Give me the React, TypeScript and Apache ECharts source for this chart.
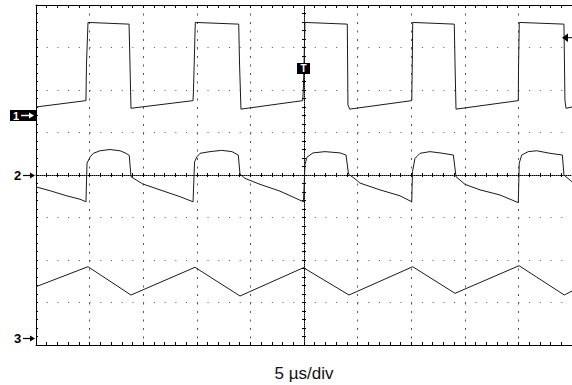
import React, { useEffect, useRef } from "react";
import * as echarts from "echarts";

// time in µs (10 divisions × 5 µs/div), amplitude in screen divisions (0..8)
const xMin = 0;
const xMax = 50;
const xInterval = 5;
const yMin = 0;
const yMax = 8;
const yInterval = 1;
const xAxisName = "5 µs/div";

const ch1Points: [number, number][] = [
  [0, 5.6], [4.66, 5.75], [4.71, 6.61], [4.85, 7.59], [8.68, 7.55], [8.77, 6.59], [8.86, 5.57],
  [14.65, 5.75], [14.69, 6.0], [14.86, 7.59], [18.91, 7.55], [18.99, 6.59], [19.12, 5.55],
  [24.88, 5.75], [24.95, 6.07], [25.09, 7.59], [29.04, 7.55], [29.1, 5.65], [29.26, 5.55],
  [35.05, 5.75], [35.1, 6.6], [35.14, 7.59], [39.02, 7.55], [39.09, 6.59], [39.18, 5.55],
  [44.99, 5.75], [45.01, 6.47], [45.08, 7.59], [49.25, 7.55], [49.34, 5.76], [49.44, 5.57], [50, 5.6],
];

const ch2Points: [number, number][] = [
  [0, 3.72], [1.31, 3.63], [2.86, 3.51], [4.1, 3.43], [4.66, 3.37],
  [4.76, 4.28], [5.04, 4.42], [5.35, 4.51], [5.97, 4.57], [6.9, 4.6], [7.84, 4.57], [8.4, 4.51], [8.7, 4.46],
  [8.86, 3.96], [9.95, 3.79], [11.57, 3.65], [13.43, 3.49], [14.65, 3.37],
  [14.79, 4.31], [15.02, 4.43], [15.3, 4.51], [16.23, 4.55], [17.32, 4.58], [18.28, 4.55], [18.87, 4.47],
  [19.03, 4.02], [19.5, 3.92], [20.9, 3.78], [22.76, 3.62], [24.95, 3.37],
  [25.09, 4.24], [25.28, 4.42], [25.84, 4.52], [26.96, 4.55], [28.36, 4.52], [28.92, 4.47],
  [29.15, 4.02], [29.76, 3.91], [30.22, 3.81], [32.09, 3.65], [33.96, 3.51], [35.05, 3.37],
  [35.12, 4.08], [35.35, 4.39], [35.82, 4.51], [36.75, 4.55], [37.69, 4.52], [38.93, 4.47],
  [39.18, 3.96], [40.02, 3.78], [41.42, 3.65], [43.28, 3.53], [44.99, 3.35],
  [45.08, 4.28], [45.31, 4.47], [45.92, 4.55], [46.71, 4.57], [47.95, 4.51], [49.1, 4.47],
  [49.25, 4.0], [50, 3.84],
];

const ch3Points: [number, number][] = [
  [0, 1.372], [4.85, 1.842], [8.86, 1.176], [14.83, 1.828], [19.03, 1.153],
  [24.95, 1.819], [29.2, 1.176], [35.14, 1.842], [39.09, 1.216], [45.06, 1.866],
  [49.28, 1.176], [50, 1.27],
];

const frameColor = "#000";
const dotColor = "#555";
const traceColor = "#1a1a1a";

function baseX(extra: any) {
  return {
    type: "value",
    min: xMin,
    max: xMax,
    interval: xInterval,
    axisLabel: { show: false },
    splitLine: { show: false },
    ...extra,
  };
}
function baseY(extra: any) {
  return {
    type: "value",
    min: yMin,
    max: yMax,
    interval: yInterval,
    axisLabel: { show: false },
    splitLine: { show: false },
    ...extra,
  };
}

export default function App() {
  const ref = useRef<HTMLDivElement>(null);
  useEffect(() => {
    if (!ref.current) return;
    const chart = echarts.init(ref.current, null, { renderer: "svg" });
    const tickStyle = { color: frameColor, width: 1 };
    const option: any = {
      animation: false,
      backgroundColor: "#fff",
      grid: { left: 36, top: 5, width: 536, height: 340, containLabel: false, outerBoundsMode: "none" },
      xAxis: [
        baseX({
          position: "bottom",
          axisLine: { show: true, onZero: false, lineStyle: { color: frameColor, width: 1 } },
          axisTick: { show: true, inside: true, length: 3, lineStyle: tickStyle },
          minorTick: { show: true, splitNumber: 5, length: 3, lineStyle: tickStyle },
          splitLine: { show: true, lineStyle: { color: dotColor, width: 1, type: [2, 6.5] } },
          name: xAxisName,
          nameLocation: "middle",
          nameGap: 20,
          nameTextStyle: { fontFamily: "Liberation Sans, Arial, sans-serif", fontSize: 17, color: "#111" },
        }),
        baseX({
          position: "top",
          axisLine: { show: true, onZero: false, lineStyle: { color: frameColor, width: 1 } },
          axisTick: { show: true, inside: true, length: 3, lineStyle: tickStyle },
          minorTick: { show: true, splitNumber: 5, length: 3, lineStyle: tickStyle },
        }),
        baseX({
          position: "bottom",
          offset: -170,
          axisLine: { show: true, onZero: false, lineStyle: { color: frameColor, width: 1, type: [1, 1] } },
          axisTick: { show: true, inside: true, length: 2, lineStyle: tickStyle },
          minorTick: { show: true, splitNumber: 5, length: 2, lineStyle: tickStyle },
        }),
        baseX({
          position: "bottom",
          offset: -170,
          axisLine: { show: false, onZero: false },
          axisTick: { show: true, inside: false, length: 2, lineStyle: tickStyle },
          minorTick: { show: true, splitNumber: 5, length: 2, lineStyle: tickStyle },
        }),
      ],
      yAxis: [
        baseY({
          position: "left",
          axisLine: { show: true, onZero: false, lineStyle: { color: frameColor, width: 1 } },
          axisTick: { show: true, inside: true, length: 2, lineStyle: tickStyle },
          minorTick: { show: true, splitNumber: 5, length: 2, lineStyle: tickStyle },
          splitLine: { show: true, lineStyle: { color: dotColor, width: 1, type: [1, 9.72] } },
        }),
        baseY({
          position: "left",
          offset: -268,
          axisLine: { show: true, onZero: false, lineStyle: { color: frameColor, width: 1, type: [1, 1] } },
          axisTick: { show: true, inside: true, length: 2, lineStyle: tickStyle },
          minorTick: { show: true, splitNumber: 5, length: 2, lineStyle: tickStyle },
        }),
        baseY({
          position: "left",
          offset: -268,
          axisLine: { show: false, onZero: false },
          axisTick: { show: true, inside: false, length: 2, lineStyle: tickStyle },
          minorTick: { show: true, splitNumber: 5, length: 2, lineStyle: tickStyle },
        }),
      ],
      series: [ch1Points, ch2Points, ch3Points].map((pts, i) => ({
        name: "CH" + (i + 1),
        type: "line",
        xAxisIndex: 0,
        yAxisIndex: 0,
        data: pts,
        showSymbol: false,
        symbol: "none",
        lineStyle: { color: traceColor, width: 1 },
        z: 5,
      })),
      graphic: [
        // channel 1 marker (inverted)
        { type: "rect", shape: { x: 10, y: 110, width: 26, height: 11 }, style: { fill: "#000" }, z: 10 },
        { type: "text", x: 13, y: 115.5, style: { text: "1", fill: "#fff", font: "bold 11px Liberation Sans, Arial, sans-serif", textVerticalAlign: "middle" }, z: 11 },
        { type: "line", shape: { x1: 21, y1: 115.5, x2: 30, y2: 115.5 }, style: { stroke: "#fff", lineWidth: 1.5 }, z: 11 },
        { type: "polygon", shape: { points: [[29, 112.5], [34, 115.5], [29, 118.5]] }, style: { fill: "#fff" }, z: 11 },
        // channel 2 marker
        { type: "text", x: 14, y: 175, style: { text: "2", fill: "#000", font: "bold 13px Liberation Sans, Arial, sans-serif", textVerticalAlign: "middle" }, z: 11 },
        { type: "line", shape: { x1: 23, y1: 175.5, x2: 31, y2: 175.5 }, style: { stroke: "#000", lineWidth: 1.2 }, z: 11 },
        { type: "polygon", shape: { points: [[30, 172.5], [35, 175.5], [30, 178.5]] }, style: { fill: "#000" }, z: 11 },
        // channel 3 marker
        { type: "text", x: 14, y: 338, style: { text: "3", fill: "#000", font: "bold 13px Liberation Sans, Arial, sans-serif", textVerticalAlign: "middle" }, z: 11 },
        { type: "line", shape: { x1: 23, y1: 338.5, x2: 31, y2: 338.5 }, style: { stroke: "#000", lineWidth: 1.2 }, z: 11 },
        { type: "polygon", shape: { points: [[30, 335.5], [35, 338.5], [30, 341.5]] }, style: { fill: "#000" }, z: 11 },
        // trigger position marker
        { type: "rect", shape: { x: 297, y: 63, width: 13, height: 11 }, style: { fill: "#000" }, z: 10 },
        { type: "text", x: 303.5, y: 68.5, style: { text: "T", fill: "#fff", font: "bold 10px Liberation Sans, Arial, sans-serif", textAlign: "center", textVerticalAlign: "middle" }, z: 11 },
        // trigger level marker
        { type: "polygon", shape: { points: [[562, 37.7], [568, 33.5], [568, 42]] }, style: { fill: "#000" }, z: 11 },
        { type: "line", shape: { x1: 566, y1: 37.7, x2: 572, y2: 37.7 }, style: { stroke: "#000", lineWidth: 1 }, z: 11 },
      ],
    };
    chart.setOption(option);
    return () => chart.dispose();
  }, []);
  return (
    <div
      ref={ref}
      style={{ position: "absolute", left: 0, top: 0, width: 572, height: 385, background: "#fff" }}
    />
  );
}
